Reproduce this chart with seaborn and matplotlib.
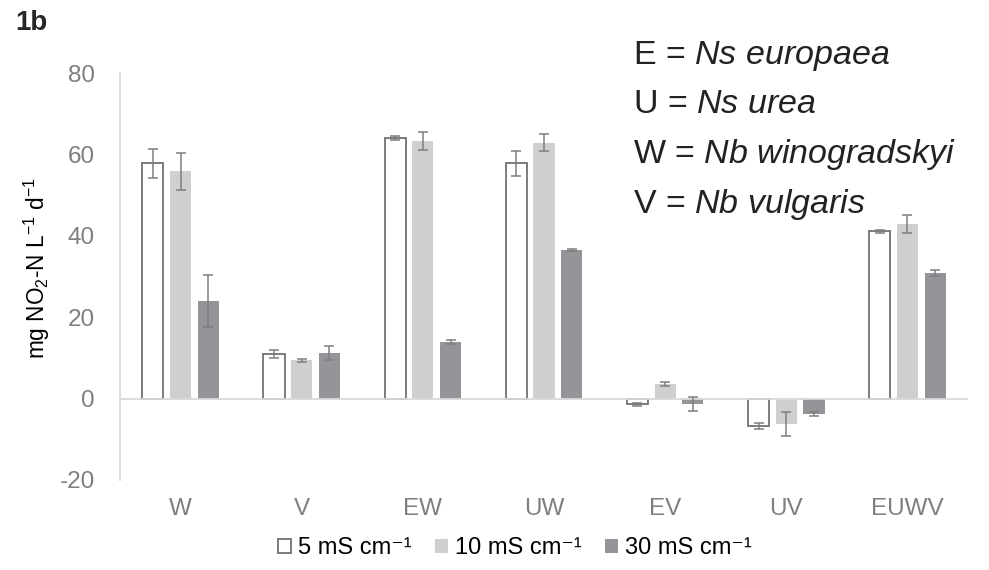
import matplotlib

matplotlib.use("Agg")
import matplotlib.pyplot as plt
import pandas as pd
import seaborn as sns

# values
combos = ["W", "V", "EW", "UW", "EV", "UV", "EUWV"]
conditions = ["5 mS cm⁻¹", "10 mS cm⁻¹", "30 mS cm⁻¹"]
rate_5 = [57.8, 11.0, 64.0, 57.8, -1.4, -6.8, 41.1]
rate_10 = [55.8, 9.4, 63.3, 62.9, 3.7, -6.3, 42.8]
rate_30 = [24.0, 11.2, 14.0, 36.5, -1.3, -3.8, 30.9]
err_5 = [3.6, 1.0, 0.4, 3.0, 0.3, 0.7, 0.4]
err_10 = [4.5, 0.3, 2.1, 2.1, 0.5, 2.9, 2.2]
err_30 = [6.4, 1.7, 0.5, 0.3, 1.8, 0.5, 0.75]

species_lines = [
    ("E", "Ns\\ europaea"),
    ("U", "Ns\\ urea"),
    ("W", "Nb\\ winogradskyi"),
    ("V", "Nb\\ vulgaris"),
]

bar_colors = ["#ffffff", "#d0cece", "#939598"]
edge_gray = "#767171"
err_gray = "#7f7f7f"
axis_gray = "#d9d9d9"
tick_gray = "#7f7f7f"


def main() -> None:
    df = pd.DataFrame(
        {
            "combo": combos * 3,
            "rate": rate_5 + rate_10 + rate_30,
            "cond": [c for c in conditions for _ in combos],
        }
    )
    errors = [err_5, err_10, err_30]

    sns.set_theme(style="white")
    plt.rcParams["font.family"] = ["Liberation Sans", "DejaVu Sans"]
    plt.rcParams["mathtext.fontset"] = "custom"
    plt.rcParams["mathtext.rm"] = "Liberation Sans"
    plt.rcParams["mathtext.it"] = "Liberation Sans:italic"
    plt.rcParams["mathtext.default"] = "regular"
    plt.rcParams["axes.unicode_minus"] = False

    fig = plt.figure(figsize=(9.89, 5.70), dpi=100)
    ax = fig.add_axes([120 / 989, 90 / 570, 848 / 989, 407 / 570])

    sns.barplot(
        data=df,
        x="combo",
        y="rate",
        hue="cond",
        order=combos,
        hue_order=conditions,
        palette=bar_colors,
        errorbar=None,
        width=0.686,
        gap=0.24,
        saturation=1,
        legend=False,
        ax=ax,
    )

    bar_groups = list(ax.containers)
    for i, cont in enumerate(bar_groups):
        for bar in cont.patches:
            if i == 0:
                bar.set_edgecolor(edge_gray)
                bar.set_linewidth(1.3)
            else:
                bar.set_edgecolor("none")
        xs = [b.get_x() + b.get_width() / 2 for b in cont.patches]
        ys = [b.get_y() + b.get_height() for b in cont.patches]
        ax.errorbar(
            xs, ys, yerr=errors[i], fmt="none", ecolor=err_gray,
            elinewidth=1.1, capsize=3.6, capthick=1.1, zorder=5,
        )

    ax.axhline(0, color=axis_gray, lw=1.3, zorder=1)
    ax.set_ylim(-20, 80)
    ax.set_yticks([-20, 0, 20, 40, 60, 80])
    ax.set_xlim(-0.5, len(combos) - 0.5)
    for side in ["top", "right", "bottom"]:
        ax.spines[side].set_visible(False)
    ax.spines["left"].set_color(axis_gray)
    ax.spines["left"].set_linewidth(1.3)
    ax.tick_params(axis="both", length=0, labelsize=17.5, labelcolor=tick_gray)
    ax.tick_params(axis="y", pad=18)
    ax.tick_params(axis="x", pad=13)
    ax.set_xlabel("")
    ax.set_ylabel("mg NO$_2$-N L$^{-1}$ d$^{-1}$", fontsize=16.3, color="black")
    ax.yaxis.set_label_coords(-0.080, 0.52)

    handles = [cont.patches[0] for cont in bar_groups]
    fig.legend(
        handles, conditions, loc="center", bbox_to_anchor=(515 / 989, 1 - 548 / 570),
        ncol=3, frameon=False, fontsize=17, handlelength=0.55, handleheight=0.55,
        handletextpad=0.3, columnspacing=1.0, labelcolor="black",
    )

    fig.text(15 / 989, 1 - 23 / 570, "1b", fontsize=20, fontweight="bold", va="center")

    baselines = [64, 113, 163, 213]
    for (abbr, name), yb in zip(species_lines, baselines):
        fig.text(633 / 989, 1 - yb / 570, f"{abbr} = $\\mathit{{{name}}}$",
                 fontsize=24.5, va="baseline", ha="left", color="#222222")

    fig.savefig("out.png", dpi=100)
    plt.close(fig)


if __name__ == "__main__":
    main()
